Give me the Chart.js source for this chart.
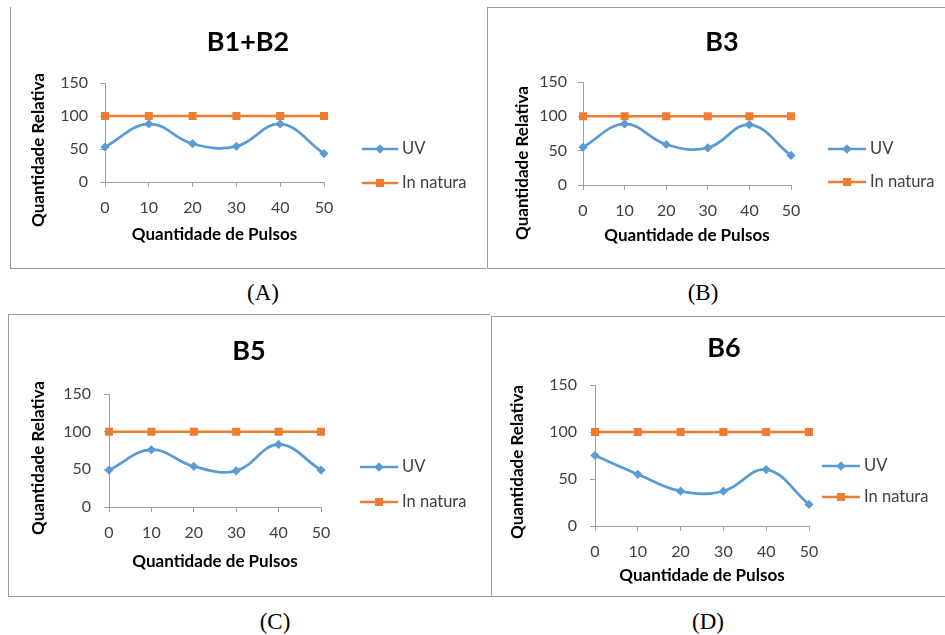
<!DOCTYPE html>
<html>
<head>
<meta charset="utf-8">
<script src="https://cdn.jsdelivr.net/npm/chart.js@4/dist/chart.umd.min.js"></script>
<style>
  html, body { margin: 0; padding: 0; background: #fff; }
  #page { position: relative; width: 945px; height: 635px; overflow: hidden; }
  canvas { position: absolute; }
  .ln { position: absolute; background: #9a9a9a; }
  .cap { position: absolute; font-family: 'Liberation Serif', serif; font-size: 23px; color: #000; transform: translate(-50%, -50%); }
</style>
</head>
<body>
<div id="page">
  <div class="ln" style="left:10px;top:7px;width:1px;height:262px"></div>
  <div class="ln" style="left:10px;top:268px;width:476px;height:1px"></div>
  <div class="ln" style="left:487px;top:7px;width:1px;height:262px"></div>
  <div class="ln" style="left:487px;top:7px;width:458px;height:1px"></div>
  <div class="ln" style="left:487px;top:268px;width:458px;height:1px"></div>
  <div class="ln" style="left:8px;top:314px;width:482px;height:1px"></div>
  <div class="ln" style="left:8px;top:314px;width:1px;height:283px"></div>
  <div class="ln" style="left:8px;top:596px;width:483px;height:1px"></div>
  <div class="ln" style="left:491px;top:316px;width:1px;height:281px"></div>
  <div class="ln" style="left:491px;top:316px;width:454px;height:1px"></div>
  <div class="ln" style="left:491px;top:596px;width:454px;height:1px"></div>
  <canvas id="cA"></canvas>
  <canvas id="cB"></canvas>
  <canvas id="cC"></canvas>
  <canvas id="cD"></canvas>
  <div class="cap" style="left:263px;top:293px">(A)</div>
  <div class="cap" style="left:703px;top:293px">(B)</div>
  <div class="cap" style="left:275px;top:622px">(C)</div>
  <div class="cap" style="left:708px;top:622px">(D)</div>
</div>
<script>
const pulsos = ['0', '10', '20', '30', '40', '50'];
const uvB1B2 = [53, 88, 58, 54, 88, 43];
const uvB3 = [55, 89, 59, 54, 88, 43];
const uvB5 = [49, 76, 54, 48, 83, 49];
const uvB6 = [75, 55, 37, 37, 60, 23];
const inNatura = [100, 100, 100, 100, 100, 100];
const yTicks = [0, 50, 100, 150];
const seriesNames = ['UV', 'In natura'];

const BLUE = '#5B9BD5';
const ORANGE = '#ED7D31';
const AXIS = '#a0a0a0';
const FONT = 'Lato, "Open Sans", sans-serif';

// title, y title and legend placed by hand, the way Excel lays them out
const excelDecor = {
  id: 'excelDecor',
  afterDraw(chart, args, o) {
    const ctx = chart.ctx;
    ctx.save();
    ctx.fillStyle = '#000';
    ctx.textAlign = 'center';
    ctx.textBaseline = 'middle';
    ctx.font = 'bold 27px ' + FONT;
    ctx.fillText(o.title, o.tx, o.ty);
    ctx.translate(o.yx, o.yy);
    ctx.rotate(-Math.PI / 2);
    ctx.font = 'bold 17px ' + FONT;
    ctx.fillText('Quantidade Relativa', 0, 0);
    ctx.restore();

    chart.data.datasets.forEach((ds, i) => {
      const y = o.ys[i];
      ctx.save();
      ctx.strokeStyle = ds.borderColor;
      ctx.lineWidth = 2.5;
      ctx.beginPath();
      ctx.moveTo(o.x1, y);
      ctx.lineTo(o.x2, y);
      ctx.stroke();
      ctx.fillStyle = ds.borderColor;
      ctx.beginPath();
      Chart.helpers.drawPoint(ctx, { pointStyle: ds.pointStyle, radius: ds.pointRadius, borderWidth: 0 }, (o.x1 + o.x2) / 2, y);
      ctx.fill();
      ctx.fillStyle = '#404040';
      ctx.font = '16.5px ' + FONT;
      ctx.textBaseline = 'middle';
      ctx.fillText(ds.label, o.x2 + 4, y);
      ctx.restore();
    });
  }
};

function makePanel(id, p) {
  const c = document.getElementById(id);
  c.style.left = p.cx + 'px';
  c.style.top = p.cy + 'px';
  c.width = p.cw; c.height = p.ch;
  c.style.width = p.cw + 'px'; c.style.height = p.ch + 'px';
  const L = p.left - p.cx, R = p.right - p.cx, T = p.top - p.cy, B = p.bottom - p.cy;
  const aLH = 17 * 1.2;
  new Chart(c, {
    type: 'line',
    data: {
      labels: pulsos,
      datasets: [
        { label: seriesNames[0], data: p.uv, borderColor: BLUE, backgroundColor: BLUE, borderWidth: 2.75,
          pointStyle: 'rectRot', pointRadius: 4.6, pointBorderWidth: 0, tension: 0.4 },
        { label: seriesNames[1], data: inNatura, borderColor: ORANGE, backgroundColor: ORANGE, borderWidth: 2.5,
          pointStyle: 'rect', pointRadius: 5.7, pointBorderWidth: 0, tension: 0 },
      ],
    },
    options: {
      responsive: false,
      animation: false,
      layout: { padding: { left: 0, top: T, bottom: 0, right: p.cw - R } },
      plugins: {
        legend: { display: false },
        tooltip: { enabled: false },
        title: { display: false },
        excelDecor: {
          title: p.title, tx: p.titleX - p.cx, ty: p.titleY - p.cy,
          yx: p.yTitleX - p.cx, yy: p.yTitleY - p.cy,
          x1: p.lx1 - p.cx, x2: p.lx2 - p.cx, ys: [p.ly1 - p.cy, p.ly2 - p.cy],
        },
      },
      scales: {
        x: {
          offset: false,
          grid: { drawOnChartArea: false, drawTicks: true, tickLength: 5, color: AXIS },
          border: { color: AXIS, width: 1 },
          ticks: { color: '#404040', font: { family: FONT, size: 16 }, padding: p.xPad, maxRotation: 0 },
          title: { display: true, text: 'Quantidade de Pulsos', color: '#000',
            font: { family: FONT, size: 17, weight: 'bold' },
            padding: { top: 0, bottom: p.ch - (p.xTitleY - p.cy) - aLH / 2 } },
          afterFit: s => { s.height = p.ch - B; },
        },
        y: {
          min: 0, max: 150,
          afterBuildTicks: s => { s.ticks = yTicks.map(v => ({ value: v })); },
          grid: { drawOnChartArea: false, drawTicks: true, tickLength: 5, color: AXIS },
          border: { color: AXIS, width: 1 },
          ticks: { color: '#404040', font: { family: FONT, size: 16 }, padding: L - (p.yLabR - p.cx) - 5 },
          afterFit: s => { s.width = L; },
        },
      },
    },
    plugins: [excelDecor],
  });
}

makePanel('cA', { cx: 11, cy: 8, cw: 469, ch: 259, title: 'B1+B2', uv: uvB1B2,
  left: 105, right: 324, top: 83, bottom: 182, titleX: 248, titleY: 42, yLabR: 88, xPad: 11,
  xTitleY: 235, yTitleX: 39, yTitleY: 150, lx1: 362, lx2: 398, ly1: 149, ly2: 183 });
makePanel('cB', { cx: 488, cy: 8, cw: 457, ch: 259, title: 'B3', uv: uvB3,
  left: 583, right: 791, top: 82, bottom: 185, titleX: 722, titleY: 42, yLabR: 567, xPad: 11,
  xTitleY: 236, yTitleX: 523, yTitleY: 163, lx1: 828, lx2: 866, ly1: 149, ly2: 182 });
makePanel('cC', { cx: 9, cy: 315, cw: 472, ch: 280, title: 'B5', uv: uvB5,
  left: 109, right: 321, top: 394, bottom: 507, titleX: 249, titleY: 351, yLabR: 91, xPad: 11,
  xTitleY: 562, yTitleX: 39, yTitleY: 458, lx1: 360, lx2: 398, ly1: 467, ly2: 502 });
makePanel('cD', { cx: 492, cy: 317, cw: 453, ch: 278, title: 'B6', uv: uvB6,
  left: 595, right: 809, top: 385, bottom: 526, titleX: 724, titleY: 348, yLabR: 577, xPad: 11,
  xTitleY: 576, yTitleX: 518, yTitleY: 462, lx1: 822, lx2: 860, ly1: 466, ly2: 497 });
</script>
</body>
</html>
